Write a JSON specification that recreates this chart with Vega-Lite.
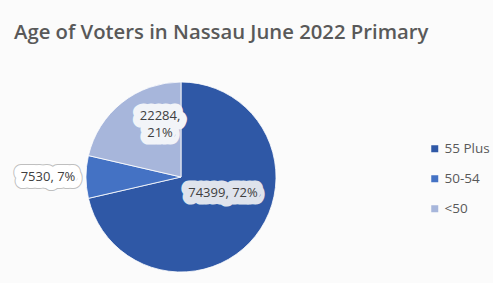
{
  "$schema": "https://vega.github.io/schema/vega-lite/v6.json",
  "width": 190,
  "height": 190,
  "autosize": {"type": "none"},
  "padding": {"left": 86, "top": 82, "right": 217, "bottom": 11},
  "background": "#fbfbfb",
  "config": {"view": {"stroke": null}},
  "title": {
    "text": "Age of Voters in Nassau June 2022 Primary",
    "anchor": "start",
    "frame": "group",
    "dx": -72,
    "offset": 8,
    "baseline": "alphabetic",
    "font": "Open Sans",
    "fontSize": 20.3,
    "fontWeight": 600,
    "color": "#595959"
  },
  "data": {
    "values": [
      {"group": "55 Plus", "voters": 74399, "slot": 1, "label": "74399, 72%"},
      {"group": "50-54", "voters": 7530, "slot": 2, "label": "7530, 7%"},
      {"group": "<50", "voters": 22284, "slot": 3, "label": "22284,\n21%"}
    ]
  },
  "encoding": {
    "theta": {"field": "voters", "type": "quantitative", "stack": true},
    "order": {"field": "slot", "type": "quantitative"}
  },
  "layer": [
    {
      "mark": {"type": "arc", "stroke": "#ffffff", "strokeWidth": 0.8},
      "encoding": {
        "color": {
          "field": "group",
          "type": "nominal",
          "scale": {"domain": ["55 Plus", "50-54", "<50"], "range": ["#2F58A6", "#4472C4", "#A7B6DB"]},
          "legend": {
            "orient": "none",
            "legendX": 342,
            "legendY": 60,
            "title": null,
            "symbolType": "square",
            "symbolSize": 49,
            "symbolStrokeWidth": 0,
            "labelFont": "Open Sans",
            "labelFontSize": 13.5,
            "labelColor": "#595959",
            "rowPadding": 15,
            "padding": 0,
            "labelOffset": 3
          }
        }
      }
    },
    {
      "mark": {"type": "text", "radius": 45, "thetaOffset": -0.305, "font": "Open Sans", "fontSize": 13, "fill": "#dfe3ec", "stroke": "#dfe3ec", "strokeWidth": 15, "strokeJoin": "round"},
      "encoding": {"detail": {"field": "group"}, "text": {"condition": {"test": "datum.group === '55 Plus'", "field": "label"}, "value": ""}}
    },
    {
      "mark": {"type": "text", "radius": 45, "thetaOffset": -0.305, "font": "Open Sans", "fontSize": 13, "fill": "#404040"},
      "encoding": {"detail": {"field": "group"}, "text": {"condition": {"test": "datum.group === '55 Plus'", "field": "label"}, "value": ""}}
    },
    {
      "mark": {"type": "text", "radius": 133, "font": "Open Sans", "fontSize": 13, "fill": "#ffffff", "stroke": "#bfbfbf", "strokeWidth": 16, "strokeJoin": "round"},
      "encoding": {"detail": {"field": "group"}, "text": {"condition": {"test": "datum.group === '50-54'", "field": "label"}, "value": ""}}
    },
    {
      "mark": {"type": "text", "radius": 133, "font": "Open Sans", "fontSize": 13, "fill": "#ffffff", "stroke": "#ffffff", "strokeWidth": 14, "strokeJoin": "round"},
      "encoding": {"detail": {"field": "group"}, "text": {"condition": {"test": "datum.group === '50-54'", "field": "label"}, "value": ""}}
    },
    {
      "mark": {"type": "text", "radius": 133, "font": "Open Sans", "fontSize": 13, "fill": "#404040"},
      "encoding": {"detail": {"field": "group"}, "text": {"condition": {"test": "datum.group === '50-54'", "field": "label"}, "value": ""}}
    },
    {
      "mark": {"type": "text", "radius": 56, "thetaOffset": 0.288, "dy": -9, "lineBreak": "\n", "lineHeight": 17, "font": "Open Sans", "fontSize": 13, "fill": "#f2f4f8", "stroke": "#f2f4f8", "strokeWidth": 15, "strokeJoin": "round"},
      "encoding": {"detail": {"field": "group"}, "text": {"condition": {"test": "datum.group === '<50'", "field": "label"}, "value": ""}}
    },
    {
      "mark": {"type": "text", "radius": 56, "thetaOffset": 0.288, "dy": -9, "lineBreak": "\n", "lineHeight": 17, "font": "Open Sans", "fontSize": 13, "fill": "#404040"},
      "encoding": {"detail": {"field": "group"}, "text": {"condition": {"test": "datum.group === '<50'", "field": "label"}, "value": ""}}
    }
  ]
}
